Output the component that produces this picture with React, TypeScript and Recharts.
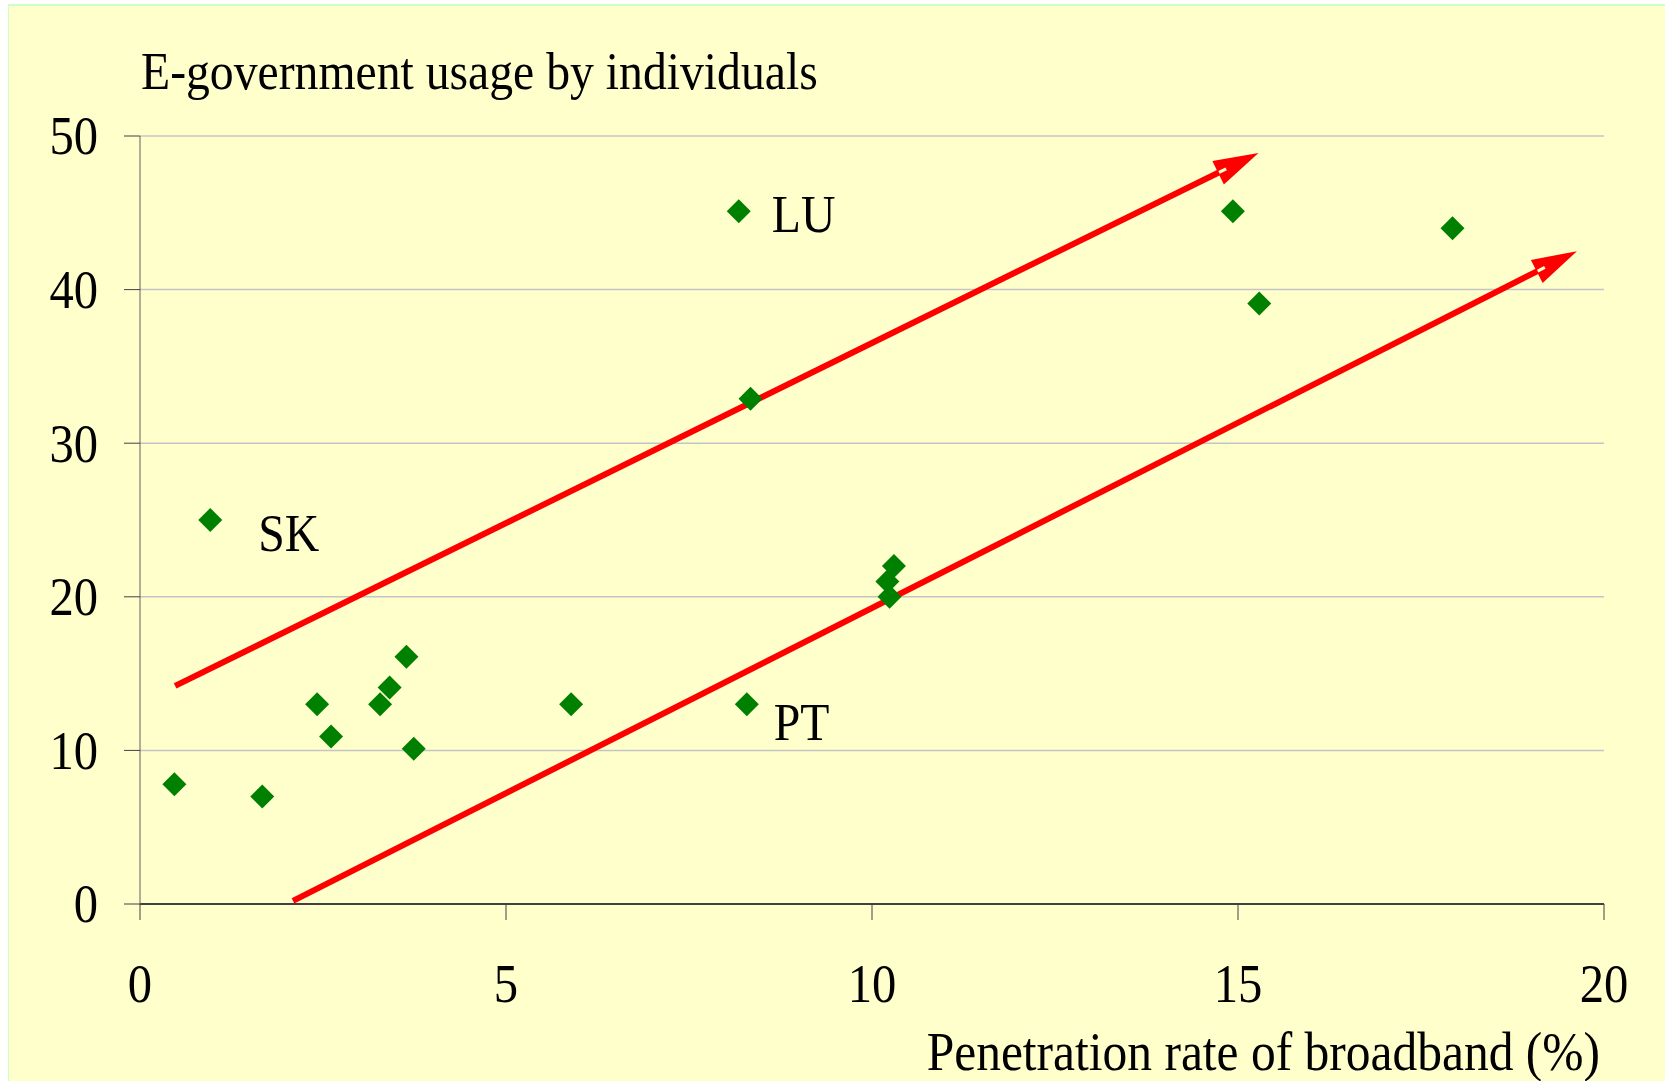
import React from "react";
import {
  ScatterChart,
  Scatter,
  XAxis,
  YAxis,
  CartesianGrid,
  ReferenceLine,
} from "recharts";

// broadband penetration (%) vs e-government usage (%), one point per country
const BROADBAND = [0.47, 0.96, 1.67, 2.42, 2.61, 3.28, 3.41, 3.64, 3.74, 5.89, 8.18, 8.34, 8.29, 10.21, 10.3, 10.24, 14.93, 15.29, 17.93];
const EGOV = [7.8, 25, 7, 13, 10.9, 13, 14.1, 16.1, 10.1, 13, 45.1, 32.9, 13, 21, 22, 20, 45.1, 39.1, 44];
const COUNTRY = ["", "SK", "", "", "", "", "", "", "", "", "LU", "", "PT", "", "", "", "", "", ""];

const X_TICKS = [0, 5, 10, 15, 20];
const Y_TICKS = [0, 10, 20, 30, 40, 50];

// the two trend arrows, in data units
const ARROW_FROM_X = [0.48, 2.09];
const ARROW_FROM_Y = [14.2, 0.2];
const ARROW_TO_X = [15.28, 19.63];
const ARROW_TO_Y = [48.9, 42.5];

const TITLE = "E-government usage by individuals";
const X_TITLE = "Penetration rate of broadband (%)";

const FONT = '"Liberation Serif", "Times New Roman", serif';
const GREEN = "#008000";
const RED = "#FF0000";
const BG = "#FFFFCC";

// where each country name sits relative to its marker
const LABEL_OFFSET: Record<string, [number, number]> = {
  LU: [33, 21],
  SK: [48, 31],
  PT: [27, 36],
};

const DATA = BROADBAND.map((x, i) => ({ x, y: EGOV[i], name: COUNTRY[i] }));

// the original type is a bit taller and narrower than plain Times
function Txt({ x, y, size, anchor = "start", dy, children }: any) {
  return (
    <text
      transform={`translate(${x},${y}) scale(0.9,1)`}
      x={0}
      y={0}
      dy={dy}
      textAnchor={anchor}
      fontFamily={FONT}
      fontSize={size}
      fill="#000"
    >
      {children}
    </text>
  );
}

function Diamond(props: any) {
  const { cx, cy, payload } = props;
  const r = 12;
  const off = payload?.name ? LABEL_OFFSET[payload.name] : null;
  return (
    <g>
      <polygon
        points={`${cx},${cy - r} ${cx + r},${cy} ${cx},${cy + r} ${cx - r},${cy}`}
        fill={GREEN}
      />
      {off && (
        <Txt x={cx + off[0]} y={cy + off[1]} size={53}>
          {payload.name}
        </Txt>
      )}
    </g>
  );
}

const HEAD_LEN = 45;
const HEAD_W = 13;

function Arrow(props: any) {
  const { x1, y1, x2, y2 } = props;
  const dx = x2 - x1;
  const dy = y2 - y1;
  const len = Math.hypot(dx, dy);
  const ux = dx / len;
  const uy = dy / len;
  const nx = -uy;
  const ny = ux;
  const bx = x2 - HEAD_LEN * ux;
  const by = y2 - HEAD_LEN * uy;
  return (
    <g>
      <line x1={x1} y1={y1} x2={bx + 3 * ux} y2={by + 3 * uy} stroke={RED} strokeWidth={6} />
      <polygon
        points={`${x2},${y2} ${bx + HEAD_W * nx},${by + HEAD_W * ny} ${bx - HEAD_W * nx},${by - HEAD_W * ny}`}
        fill={RED}
      />
      <line
        x1={x2 - 44 * ux}
        y1={y2 - 44 * uy}
        x2={x2 - 36 * ux}
        y2={y2 - 36 * uy}
        stroke={BG}
        strokeWidth={3}
      />
    </g>
  );
}

function XTick(props: any) {
  const { x, y, payload } = props;
  return (
    <Txt x={x} y={y + 82} size={54} anchor="middle">
      {payload.value}
    </Txt>
  );
}

function YTick(props: any) {
  const { x, y, payload } = props;
  return (
    <Txt x={x} y={y} dy="0.34em" size={54} anchor="end">
      {payload.value}
    </Txt>
  );
}

function TitleLabel(props: any) {
  const vb = props.viewBox || {};
  return (
    <Txt x={vb.x + vb.width + 1} y={vb.y - 47} size={53}>
      {TITLE}
    </Txt>
  );
}

function XTitleLabel(props: any) {
  const vb = props.viewBox || {};
  return (
    <Txt x={vb.x + vb.width - 4} y={vb.y + 166} size={55} anchor="end">
      {X_TITLE}
    </Txt>
  );
}

export default function App() {
  return (
    <div style={{ position: "absolute", left: 0, top: 0, width: 1665, height: 1081, background: "#fff", overflow: "hidden" }}>
      <div
        style={{
          position: "absolute",
          left: 8,
          top: 4,
          right: 0,
          bottom: 0,
          background: BG,
          borderLeft: "1px solid #CCFFCC",
          borderTop: "2px solid #CCFFCC",
        }}
      />
      <div style={{ position: "absolute", left: 0, top: 0 }}>
        <ScatterChart width={1665} height={1081} margin={{ top: 136, right: 61, bottom: 0, left: 0 }}>
          <CartesianGrid horizontal vertical={false} stroke="#C4C4C4" strokeWidth={1.5} />
          <XAxis
            type="number"
            dataKey="x"
            domain={[0, 20]}
            ticks={X_TICKS}
            height={177}
            tickSize={16}
            tickMargin={0}
            axisLine={{ stroke: "#404040", strokeWidth: 2 }}
            tickLine={{ stroke: "#404040", strokeWidth: 1 }}
            tick={<XTick />}
            label={{ value: X_TITLE, content: XTitleLabel }}
            interval={0}
          />
          <YAxis
            type="number"
            dataKey="y"
            domain={[0, 50]}
            ticks={Y_TICKS}
            width={140}
            tickSize={16}
            tickMargin={26}
            axisLine={{ stroke: "#606060", strokeWidth: 1 }}
            tickLine={{ stroke: "#404040", strokeWidth: 1 }}
            tick={<YTick />}
            label={{ value: TITLE, content: TitleLabel }}
            interval={0}
          />
          <Scatter data={DATA} shape={Diamond} isAnimationActive={false} />
          {ARROW_FROM_X.map((x0, i) => (
            <ReferenceLine
              key={i}
              segment={[
                { x: x0, y: ARROW_FROM_Y[i] },
                { x: ARROW_TO_X[i], y: ARROW_TO_Y[i] },
              ]}
              ifOverflow="visible"
              shape={Arrow}
            />
          ))}
        </ScatterChart>
      </div>
    </div>
  );
}
